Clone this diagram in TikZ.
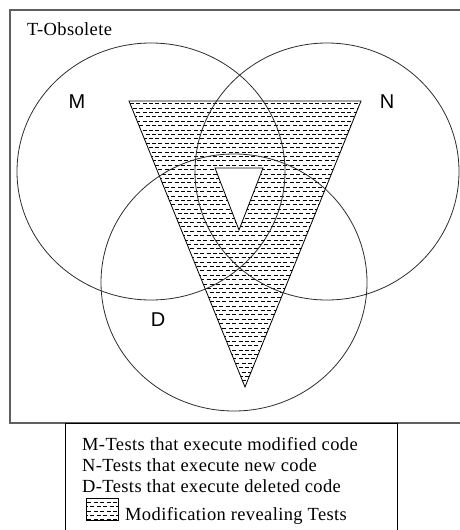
\documentclass[tikz,border=0pt]{standalone}
\usepackage{fontspec}
\setmainfont{Liberation Serif}[LetterSpace=2]
\newfontfamily\setfont{Liberation Sans}
\usepackage{xcolor}
\usepackage{tikz}
\usetikzlibrary{positioning, calc}
\definecolor{FrameGray}{RGB}{95, 95, 95}
\definecolor{SetGray}{RGB}{45, 45, 45}

\begin{document}
\begin{tikzpicture}[x=1pt, y=-1pt,
  setline/.style={draw=SetGray, line width=0.8pt},
  setlabel/.style={font=\setfont\fontsize{20}{24}\selectfont, inner sep=0pt},
  legendline/.style={font=\fontsize{18.5}{22}\selectfont, anchor=base west, inner sep=0pt},
  hatchrow/.style={black, line width=0.6pt, dash pattern=on 4pt off 2.4pt}]
  \useasboundingbox (0,0) rectangle (460,530);

  % frame and legend box
  \draw[FrameGray, line width=1.2pt] (10,10) rectangle (472,423);
  \draw[black, line width=0.9pt] (65,540) -- (65,423) -- (397,423) -- (397,540);

  % revealing region: outer triangle minus inner triangle
  \coordinate (tl) at (129,101);
  \coordinate (tr) at (361,101);
  \coordinate (tb) at (245,387);
  \coordinate (il) at (215,168);
  \coordinate (ir) at (263,168);
  \coordinate (ib) at (239,230);
  \begin{scope}[even odd rule]
    \clip (tl) -- (tr) -- (tb) -- cycle (il) -- (ir) -- (ib) -- cycle;
    \foreach \y [count=\i] in {103.5,107.9,...,388} {
      \pgfmathsetmacro{\ph}{mod(\i,2)*3}
      \draw[hatchrow, dash phase=\ph pt] (120,\y) -- (370,\y);
    }
  \end{scope}
  \draw[black, line width=0.8pt] (tl) -- (tr) -- (tb) -- cycle;
  \draw[black, line width=0.8pt] (il) -- (ir) -- (ib) -- cycle;

  % the three sets
  \coordinate (cM) at (151,171.5);
  \coordinate (cN) at (327,171.5);
  \coordinate (cD) at (234,282.5);
  \draw[setline] (cM) ellipse [x radius=134, y radius=128.5];
  \draw[setline] (cN) ellipse [x radius=132, y radius=128.5];
  \draw[setline] (cD) ellipse [x radius=133, y radius=128.5];

  \node[setlabel] (lblM) at (77,102) {M};
  \node[setlabel] (lblN) at (387,102) {N};
  \node[setlabel] (lblD) at (158,320) {D};
  \node[legendline] (title) at (27,35) {T-Obsolete};

  % legend
  \node[legendline] (legM) at (82,450) {M-Tests that execute modified code};
  \node[legendline] (legN) at (82,471.5) {N-Tests that execute new code};
  \node[legendline] (legD) at (82,492.5) {D-Tests that execute deleted code};
  \coordinate (ka) at (86,498.5);
  \coordinate (kb) at (118,520.5);
  \begin{scope}
    \clip (ka) rectangle (kb);
    \foreach \y [count=\i] in {502,506.4,...,520} {
      \pgfmathsetmacro{\ph}{mod(\i,2)*3}
      \draw[hatchrow, dash phase=\ph pt] (84,\y) -- (120,\y);
    }
  \end{scope}
  \draw[black, line width=0.8pt] (ka) rectangle (kb);
  \node[legendline] (legR) at (125,520) {Modification revealing Tests};
\end{tikzpicture}
\end{document}
